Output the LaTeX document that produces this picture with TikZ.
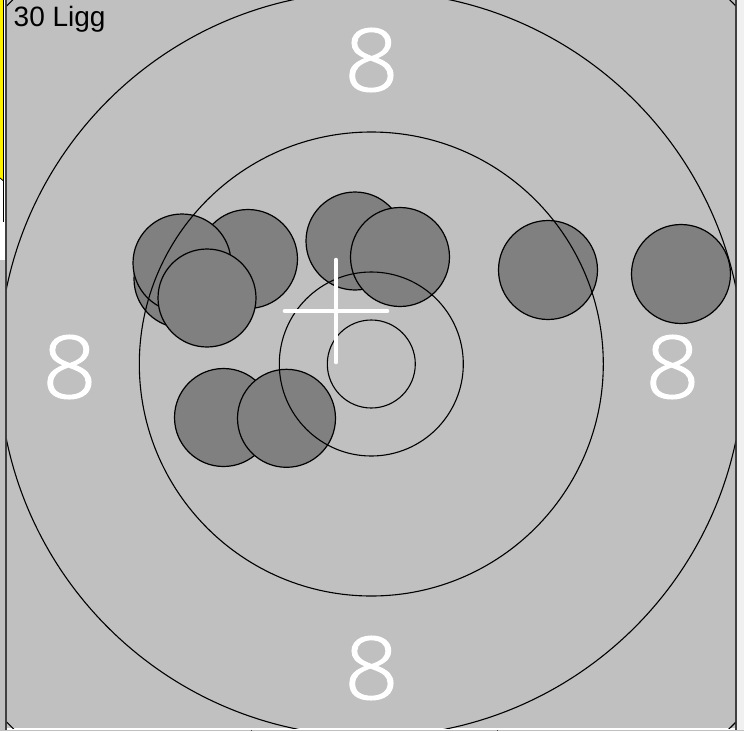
\documentclass[tikz,border=0pt]{standalone}
\usepackage{fontspec}
\setmainfont{Liberation Sans}
\IfFontExistsTF{Noto Sans Light}{\newfontfamily\ringfont{Noto Sans Light}[FakeBold=1.2]}{%
  \IfFontExistsTF{Open Sans Light}{\newfontfamily\ringfont{Open Sans Light}[FakeBold=1.2]}{%
    \newfontfamily\ringfont{Liberation Sans}}}
\definecolor{panelgray}{HTML}{C0C0C0}
\definecolor{holegray}{HTML}{808080}
\definecolor{edgegray}{HTML}{404040}
\newcommand{\ringnum}[1]{\scalebox{1.1}[1]{#1}}
\tikzset{
  hole/.style={fill=holegray, draw=black, line width=1.2pt},
  ring/.style={draw=black, line width=1.1pt},
  crossbar/.style={draw=white, line width=4.6pt, line cap=round},
  ringlabel/.style={text=white, inner sep=0pt, font=\ringfont\fontsize{87}{87}\selectfont},
  toplabel/.style={text=black, inner sep=0pt, anchor=base west, font=\fontsize{28}{28}\selectfont}
}
\begin{document}
\begin{tikzpicture}[x=1pt,y=-1pt]
\useasboundingbox (0,0) rectangle (744,731);
\fill[white] (0,0) rectangle (744,731);
% left strip
\fill[yellow] (0,0) -- (3.6,0) -- (3.6,181) -- (0,178) -- cycle;
\fill[panelgray] (0,260) rectangle (4.8,731);
\draw[black, line width=0.8pt] (3.6,0) -- (3.6,222);
\draw[black, line width=0.8pt] (0,178) -- (3.6,181);
\fill[edgegray] (4.8,0) rectangle (6.9,731);
% right strip
\fill[gray!12] (737,0) rectangle (744,731);
\fill[edgegray] (735.4,0) rectangle (737,731);
% bottom strip
\fill[panelgray] (0,729.6) rectangle (744,731);
\fill[edgegray] (250.5,729.6) rectangle (251.5,731);
\fill[edgegray] (496.5,729.6) rectangle (497.5,731);
% panel
\fill[panelgray] (6.9,0) rectangle (735.4,728);
\begin{scope}
\clip (6.9,0) rectangle (735.4,728);
% shot holes
\path[hole] (183,279) circle[radius=49];
\path[hole] (248,259) circle[radius=49.5];
\path[hole] (182,263) circle[radius=49];
\path[hole] (207,298) circle[radius=49];
\path[hole] (355,241) circle[radius=49];
\path[hole] (400,257) circle[radius=49.5];
\path[hole] (548,270) circle[radius=49.5];
\path[hole] (681,274) circle[radius=49.5];
\path[hole] (223.5,417.5) circle[radius=49];
\path[hole] (286.5,418.3) circle[radius=49];
% rings
\coordinate (c) at (371.3,364);
\draw[ring] (c) circle[radius=44];
\draw[ring] (c) circle[radius=92];
\draw[ring] (c) circle[radius=232];
\draw[ring] (c) circle[radius=372.5];
\draw[ring] (c) circle[radius=511];
% aiming cross
\coordinate (crl) at (285,311);
\coordinate (crr) at (387,311);
\coordinate (crt) at (336,260);
\coordinate (crb) at (336,362);
\draw[crossbar] (crl) -- (crr);
\draw[crossbar] (crt) -- (crb);
\end{scope}
% ring numbers
\node[ringlabel] (ntop) at (371.5,60) {\ringnum{8}};
\node[ringlabel] (nleft) at (69.5,367) {\ringnum{8}};
\node[ringlabel] (nright) at (672.5,367) {\ringnum{8}};
\node[ringlabel] (nbot) at (371.5,668) {\ringnum{8}};
% title
\node[toplabel] (title) at (13.5,26) {30 Ligg};
\end{tikzpicture}
\end{document}
